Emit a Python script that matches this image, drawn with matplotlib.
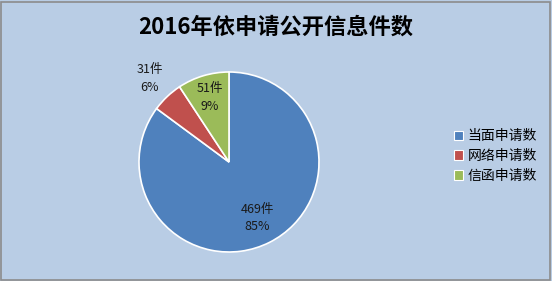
import numpy as np
import matplotlib.pyplot as plt
from matplotlib.patches import Rectangle

plt.rcParams['font.family'] = ['Noto Sans CJK SC', 'DejaVu Sans']

title = '2016年依申请公开信息件数'
categories = ['当面申请数', '网络申请数', '信函申请数']
counts = [469, 31, 51]
colors = ['#4F81BD', '#C0504D', '#9BBB59']
label_dist = [0.70, 1.28, 0.75]

fig = plt.figure(figsize=(5.52, 2.81), dpi=100)
fig.patch.set_facecolor('#B9CDE5')
fig.patches.append(Rectangle((0.002, 0.004), 0.995, 0.99, transform=fig.transFigure,
                             fill=False, edgecolor='#8C8C8C', linewidth=1.2))

ax = fig.add_axes([139 / 552, 29 / 281, 180 / 552, 180 / 281])
ax.set_facecolor('none')
wedges, _ = ax.pie(counts, colors=colors, startangle=90, counterclock=False,
                   wedgeprops=dict(edgecolor='white', linewidth=1.2))
ax.set_xlim(-1, 1)
ax.set_ylim(-1, 1)
ax.set_aspect('equal')
ax.axis('off')

total = sum(counts)
for w, c, d in zip(wedges, counts, label_dist):
    mid = np.deg2rad((w.theta1 + w.theta2) / 2)
    pct = round(c / total * 100)
    ax.text(d * np.cos(mid), d * np.sin(mid), f'{c}件\n{pct}%', ha='center', va='center',
            fontsize=9, color='#1a1a1a', linespacing=1.45, clip_on=False)

fig.text(0.5, 0.905, title, ha='center', va='center', fontsize=16, fontweight='bold')

handles = [Rectangle((0, 0), 1, 1, facecolor=col, edgecolor='white', linewidth=0.8) for col in colors]
fig.legend(handles, categories, loc='center left', bbox_to_anchor=(0.822, 0.445),
           frameon=False, fontsize=10, handlelength=0.7, handleheight=0.7,
           handletextpad=0.3, labelspacing=0.4, borderpad=0, borderaxespad=0)

fig.savefig('out.png', dpi=100, facecolor=fig.get_facecolor())
